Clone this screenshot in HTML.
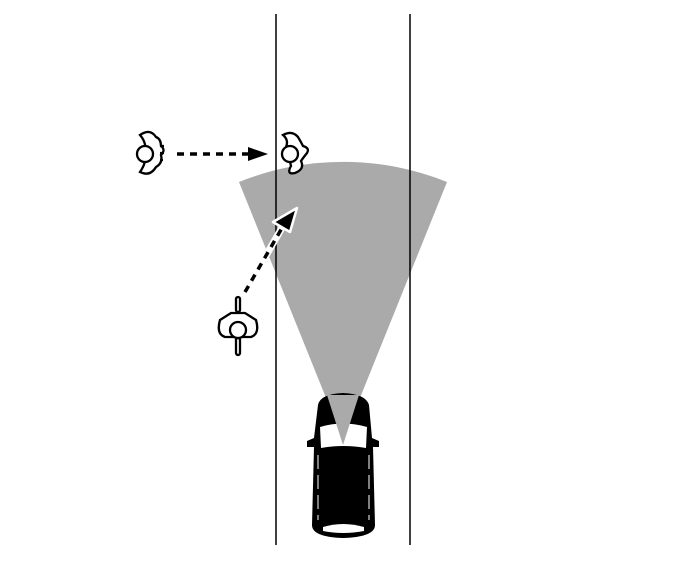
<!DOCTYPE html>
<html><head><style>body{margin:0;background:#fff}</style></head><body>
<svg width="686" height="556" viewBox="0 0 686 556" xmlns="http://www.w3.org/2000/svg">
<rect width="686" height="556" fill="#fff"/>
<path d="M343,440 L239,182 A278,278 0 0 1 447,182 Z" fill="#aaaaaa"/>
<line x1="276" y1="14" x2="276" y2="545" stroke="#000" stroke-width="1.5"/>
<line x1="410" y1="14" x2="410" y2="545" stroke="#000" stroke-width="1.5"/>
<g>
<path d="M318,405 Q320,394 343,393 Q366,394 369,405 L372,438 L379,441 L379,447 L373,447 L375,525 Q375,537 343,538 Q312,537 312,525 L314,447 L307,447 L307,441 L314,438 Z" fill="#000"/>
<path d="M320,427 Q343,420 367,427 L366,448 Q343,444 321,448 Z" fill="#fff"/>
<path d="M327,395 L359,395 L343,445 Z" fill="#aaaaaa"/>
<path d="M323,527 Q343,521 364,527 L364,531 Q343,535 323,531 Z" fill="#fff"/>
<line x1="318" y1="455" x2="318" y2="520" stroke="#fff" stroke-width="1" stroke-dasharray="14,6"/>
<line x1="369" y1="455" x2="369" y2="520" stroke="#fff" stroke-width="1" stroke-dasharray="14,6"/>
</g>
<g fill="#fff" stroke="#000" stroke-width="2.3">
<path d="M140,135 Q150,128 156,137 Q161,139 161,146 Q166,150 161,155 Q163,163 156,167 Q150,177 140,172 Q147,162 145,153 Q147,143 140,135 Z"/>
<circle cx="145" cy="154" r="8"/>
<path d="M160,146 L164,146 M160,153 L164,153 M160,160 L163,160"/>
</g>
<g fill="#fff" stroke="#000" stroke-width="2.3">
<path d="M283,135 Q292,130 298,137 Q301,142 303,146 Q310,148 307,153 Q303,158 301,161 Q305,169 295,173 Q286,175 291,166 Q289,156 286,147 Q289,140 283,135 Z"/>
<circle cx="290" cy="154" r="8"/>
</g>
<g fill="#fff" stroke="#000" stroke-width="2.3">
<rect x="236" y="297" width="4" height="15" rx="2"/>
<path d="M220,320 L231,313 L245,313 L256,320 Q260,334 251,337 L225,337 Q216,334 220,320 Z"/>
<circle cx="238" cy="330" r="8"/>
<rect x="236" y="338" width="4" height="17" rx="2"/>
</g>
<line x1="177" y1="154" x2="250" y2="154" stroke="#000" stroke-width="3.5" stroke-dasharray="7,6"/>
<polygon points="248,147 268,154 248,161" fill="#000"/>
<line x1="245" y1="292" x2="283" y2="226" stroke="#fff" stroke-width="7"/>
<line x1="245" y1="292" x2="282" y2="228" stroke="#000" stroke-width="3.5" stroke-dasharray="7,6"/>
<polygon points="297,208 273,222 290,232" fill="#000" stroke="#fff" stroke-width="2.5" stroke-linejoin="round"/>
</svg>
</body></html>
